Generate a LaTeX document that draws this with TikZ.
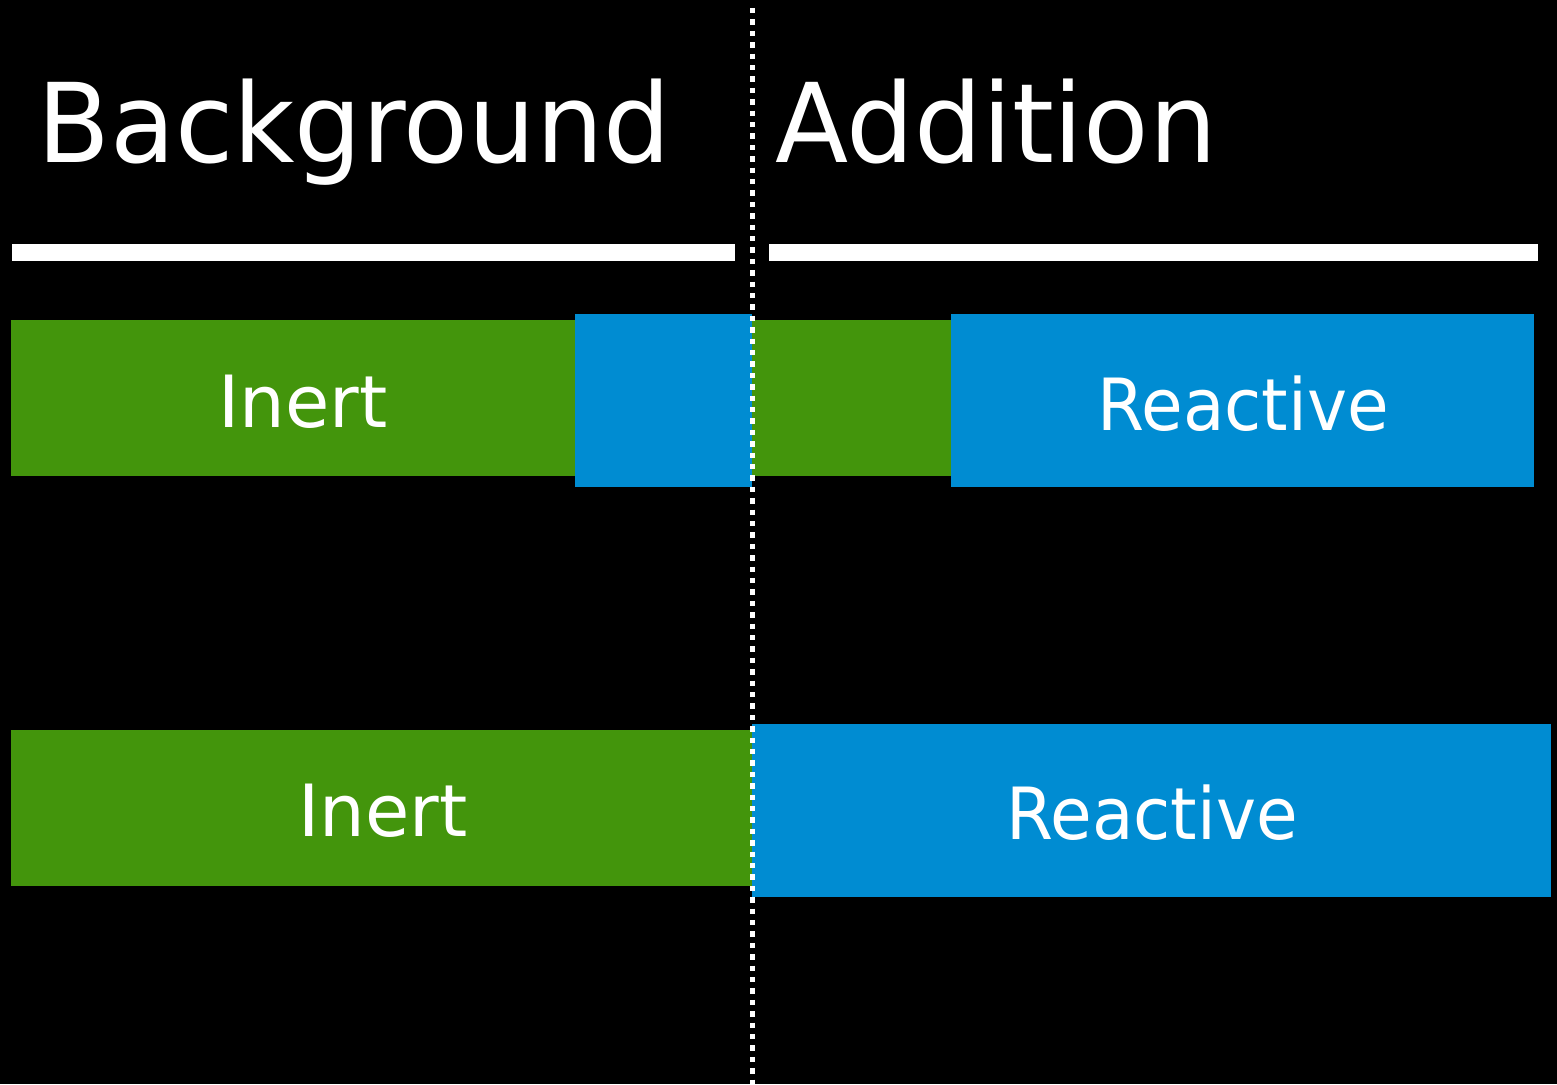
\documentclass[tikz,border=0pt]{standalone}
\usepackage{fontspec}
\setmainfont{DejaVu Sans}
\definecolor{inertgreen}{RGB}{67,149,12}
\definecolor{reactblue}{RGB}{0,140,210}
\begin{document}
\begin{tikzpicture}[x=1pt,y=-1pt,
  box/.style={draw=none,inner sep=0pt,outer sep=0pt,rectangle},
  gbox/.style={box,fill=inertgreen},
  bbox/.style={box,fill=reactblue},
  title/.style={text=white,inner sep=0pt,anchor=base west,font=\fontsize{110}{120}\selectfont},
  lbl/.style={text=white,inner sep=0pt,anchor=base,font=\fontsize{72}{80}\selectfont},
  bar/.style={fill=white,draw=none}]
\fill[black] (0,0) rectangle (1557,1084);
\useasboundingbox (0,0) rectangle (1557,1084);
% titles
\node[title] (tbg) at (37,162) {\scalebox{0.965}[1]{Background}};
\node[title] (tadd) at (775,162) {\scalebox{0.972}[1]{Addition}};
% white bars
\fill[bar] (12,244) rectangle (735,261);
\fill[bar] (769,244) rectangle (1538,261);
% top row
\node[gbox,minimum width=564pt,minimum height=156pt] (g1) at (293,398) {};
\node[bbox,minimum width=177pt,minimum height=173pt] (b1) at (663.5,400.5) {};
\node[gbox,minimum width=200pt,minimum height=156pt] (g2) at (852,398) {};
\node[bbox,minimum width=583pt,minimum height=173pt] (b2) at (1242.5,400.5) {};
\node[lbl] (l1) at (303,427) {Inert};
\node[lbl] (l2) at (1243,430) {\scalebox{0.94}[1]{Reactive}};
% bottom row
\node[gbox,minimum width=741pt,minimum height=156pt] (g3) at (381.5,808) {};
\node[bbox,minimum width=799pt,minimum height=173pt] (b3) at (1151.5,810.5) {};
\node[lbl] (l3) at (383,836) {Inert};
\node[lbl] (l4) at (1152,839) {\scalebox{0.94}[1]{Reactive}};
% dotted divider
\coordinate (dtop) at (752.5,8);
\coordinate (dbot) at (752.5,1084);
\draw[white,line width=5pt,dash pattern=on 5.4pt off 6pt] (dtop) -- (dbot);
\end{tikzpicture}
\end{document}
